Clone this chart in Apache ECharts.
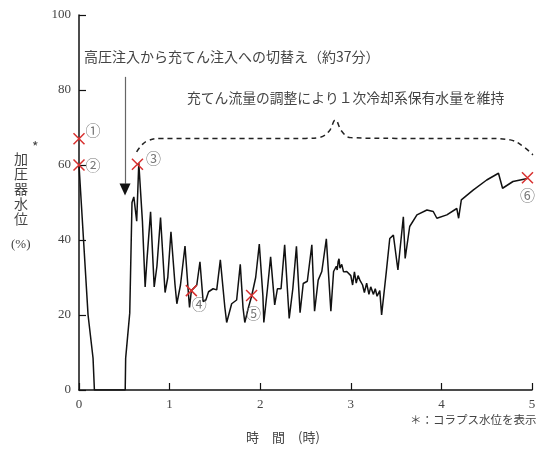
<!DOCTYPE html>
<html>
<head>
<meta charset="utf-8">
<script src="https://cdn.jsdelivr.net/npm/echarts@6/dist/echarts.min.js"></script>
<style>
  html, body { margin: 0; padding: 0; background: #fff; }
  #chart { width: 548px; height: 456px; }
</style>
</head>
<body>
<div id="chart"></div>
<script>
// 時間 (時)
var times = [0, 0.05, 0.10, 0.155, 0.17, 0.51, 0.515, 0.56, 0.585, 0.605, 0.637, 0.66, 0.70, 0.73, 0.75,
  0.79, 0.83, 0.86, 0.90, 0.95, 0.98, 1.015, 1.06, 1.08, 1.12, 1.17, 1.21, 1.22, 1.24, 1.30, 1.335, 1.37,
  1.40, 1.43, 1.48, 1.52, 1.56, 1.61, 1.63, 1.685, 1.74, 1.78, 1.81, 1.83, 1.87, 1.905, 1.95, 1.99, 2.03,
  2.04, 2.08, 2.115, 2.16, 2.19, 2.23, 2.27, 2.31, 2.32, 2.36, 2.40, 2.44, 2.475, 2.52, 2.57, 2.60, 2.64,
  2.68, 2.73, 2.78, 2.81, 2.84, 2.85, 2.86, 2.87, 2.88, 2.90, 2.92, 2.955, 3.0, 3.02, 3.04, 3.06, 3.08,
  3.10, 3.13, 3.15, 3.175, 3.20, 3.22, 3.25, 3.27, 3.29, 3.32, 3.34, 3.39, 3.43, 3.47, 3.52, 3.58, 3.60,
  3.65, 3.73, 3.84, 3.91, 3.95, 4.06, 4.17, 4.19, 4.22, 4.35, 4.50, 4.63, 4.675, 4.79, 4.95];
// 加圧器水位 (%)
var levels = [60, 40, 20, 8.5, 0, 0, 8.5, 20.5, 50, 51.5, 45, 60.5, 45, 27.5, 34.7,
  47.5, 27.5, 33, 46, 26, 30, 42.2, 28, 23, 28, 38.4, 25, 22, 26.5, 28, 34.2, 23.6,
  24, 26.2, 27, 26.7, 34.7, 22, 18, 23, 24, 33.5, 22, 18, 22, 25, 30, 38.9, 25,
  18, 27, 35.5, 22.7, 27, 27, 38.7, 23, 19.1, 27, 38.3, 20.6, 28.4, 29, 38.7, 21, 29.3,
  31.6, 40.3, 21, 31.6, 33, 32, 34.2, 35, 32.5, 33.5, 31.5, 31.6, 30.5, 28, 31.5, 28.5, 30.5,
  29.3, 28, 26, 28.5, 25.5, 27.5, 25.5, 27, 25, 26.5, 20, 31.1, 40.4, 41.3, 32, 46.2, 35.1,
  43.6, 46.7, 48, 47.6, 45.8, 46.7, 48.4, 45.8, 50.7, 53.3, 56, 57.8, 53.8, 55.6, 56.4];

// 丸数字の点 (×印)
var markTimes = [0, 0, 0.645, 1.24, 1.905, 4.95];
var markLevels = [67, 60, 60.2, 26.5, 25.2, 56.6];
var markNames = ['①', '②', '③', '④', '⑤', '⑥'];

// 波括弧 (破線)
var braceTimes = [0.636, 0.70, 0.76, 0.894, 1.5, 2.5, 2.66, 2.76, 2.83, 2.90, 3.0, 3.5, 4.5, 4.76, 4.9, 5.01];
var braceLevels = [63.5, 65.5, 66.5, 67.1, 67.1, 67.1, 67.4, 69, 72, 69, 67.3, 67.1, 67.1, 66.7, 65, 62.7];

var xTicks = [0, 1, 2, 3, 4, 5];
var yTicks = [0, 20, 40, 60, 80, 100];

var serif = '"Liberation Serif", "DejaVu Serif", serif';
var jp = '"Noto Sans CJK JP", sans-serif';

var curve = times.map(function (t, i) { return [t, levels[i]]; });
var brace = braceTimes.map(function (t, i) { return [t, braceLevels[i]]; });
var labelOffsets = [[14, -8], [14, 0], [16, -6], [8, 14], [2, 18], [0, 18]];
var marks = markTimes.map(function (t, i) {
  return {
    value: [t, markLevels[i]],
    label: { show: true, formatter: markNames[i], offset: labelOffsets[i] }
  };
});

var chart = echarts.init(document.getElementById('chart'));
chart.setOption({
  animation: false,
  grid: { left: 79, right: 16, top: 15, bottom: 66 },
  xAxis: {
    type: 'value', min: 0, max: 5, interval: 1,
    axisLine: { lineStyle: { color: '#111', width: 1.5 } },
    axisTick: { inside: true, length: 7, lineStyle: { color: '#111', width: 1.2 } },
    axisLabel: { color: '#444', fontFamily: serif, fontSize: 13, margin: 8, hideOverlap: false,
      formatter: function (v) { return xTicks.indexOf(v) >= 0 ? String(v) : ''; } },
    splitLine: { show: false }
  },
  yAxis: {
    type: 'value', min: 0, max: 100, interval: 20,
    axisLine: { show: true, lineStyle: { color: '#111', width: 1.5 } },
    axisTick: { show: true, inside: true, length: 7, lineStyle: { color: '#111', width: 1.2 } },
    axisLabel: { color: '#444', fontFamily: serif, fontSize: 13, margin: 8,
      formatter: function (v) { return yTicks.indexOf(v) >= 0 ? String(v) : ''; } },
    splitLine: { show: false }
  },
  graphic: [
    { type: 'text', left: 14, top: 151, style: { text: '加\n圧\n器\n水\n位', font: '14px ' + jp, fill: '#444', lineHeight: 15 } },
    { type: 'text', left: 32, top: 140, style: { text: '*', font: '14px ' + jp, fill: '#444' } },
    { type: 'text', left: 11, top: 238, style: { text: '(%)', font: '13px ' + serif, fill: '#444' } },
    { type: 'text', left: 84, top: 50, style: { text: '高圧注入から充てん注入への切替え（約37分）', font: '14px ' + jp, fill: '#444' } },
    { type: 'text', left: 187, top: 91, style: { text: '充てん流量の調整により１次冷却系保有水量を維持', font: '13.8px ' + jp, fill: '#444' } },
    { type: 'text', left: 410, top: 414, style: { text: '＊：コラプス水位を表示', font: '11.5px ' + jp, fill: '#444' } },
    { type: 'text', left: 246, top: 431, style: { text: '時　間　(時)', font: '13px ' + jp, fill: '#444' } }
  ],
  series: [
    {
      type: 'line', data: curve, symbol: 'none', z: 3,
      lineStyle: { color: '#111', width: 1.5 },
      markLine: {
        silent: true, symbol: ['none', 'none'],
        label: { show: false },
        lineStyle: { color: '#666', width: 1.2, type: 'solid' },
        data: [[{ coord: [0.508, 83.5] }, { coord: [0.508, 55] }]]
      },
      markPoint: {
        silent: true, symbol: 'triangle', symbolRotate: 180, symbolSize: [11, 12],
        itemStyle: { color: '#111' }, label: { show: false },
        data: [{ coord: [0.508, 53.5] }]
      }
    },
    {
      type: 'line', data: brace, symbol: 'none', smooth: 0.4, z: 2,
      lineStyle: { color: '#222', width: 1.5, type: [5, 4] }
    },
    {
      type: 'scatter', data: marks, z: 5,
      symbol: 'path://M0,0L10,10M10,0L0,10', symbolSize: 11,
      itemStyle: { color: 'none', borderColor: '#d8302f', borderWidth: 1.5, opacity: 1 },
      label: { color: '#777', fontSize: 15, fontFamily: jp, position: 'inside' }
    }
  ]
});
</script>
</body>
</html>
